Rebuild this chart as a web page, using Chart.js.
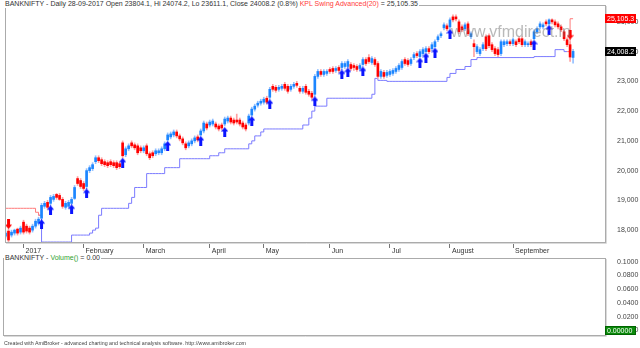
<!DOCTYPE html>
<html><head><meta charset="utf-8">
<script src="https://cdn.jsdelivr.net/npm/chart.js@4.4.0/dist/chart.umd.min.js"></script>
<style>
html,body{margin:0;padding:0;background:#fff;width:640px;height:348px;overflow:hidden;}
#wrap{position:relative;width:640px;height:348px;font-family:'Liberation Sans',Arial,sans-serif;}
canvas{position:absolute;left:0;}
.lbl{position:absolute;background:#fff;white-space:nowrap;font-size:7px;line-height:8px;color:#333;padding:0 1px;}
</style></head><body>
<div id="wrap">
<canvas id="main" width="640" height="256" style="top:0;width:640px;height:256px"></canvas>
<canvas id="vol" width="640" height="98" style="top:250px;width:640px;height:98px"></canvas>
<div class="lbl" id="title" style="left:4px;top:0px"></div>
<div class="lbl" style="left:4px;top:254px">BANKNIFTY - <span style="color:#2f9f2f">Volume()</span> = 0.00</div>
<div class="lbl" style="left:3px;top:340px;font-size:5.3px;line-height:6px;background:none;color:#444">Created with AmiBroker - advanced charting and technical analysis software. http://www.amibroker.com</div>
</div>
<script>
// ---- data ----
const opens = [
17800,17967,17833,17900,18033,17933,18267,18133,18067,18000,
18133,18233,18400,18800,18933,18900,19033,19200,19167,19033,
18767,18800,18900,19067,19733,19667,19567,19467,20000,20067,
20300,20433,20367,20300,20267,20300,20267,20267,20233,20933,
20533,20733,20933,20867,20833,20767,20667,20833,20567,20600,
20567,20600,20600,20733,21033,21133,21200,21300,21167,21067,
20900,20833,20900,21000,21133,21200,21333,21567,21533,21567,
21567,21500,21533,21567,21667,21767,21700,21700,21700,21600,
21533,21600,21867,22067,22200,22267,22300,22433,22467,22833,
22800,22733,22767,22900,22833,22733,22833,22933,22767,22667,
22833,22667,22600,22567,23167,23333,23233,23267,23400,23433,
23367,23467,23467,23500,23500,23567,23533,23500,23433,23567,
23733,23800,23633,23733,23600,23167,23300,23200,23233,23267,
23333,23400,23467,23733,23700,23600,23800,23933,23833,23933,
24000,24100,24100,24167,24400,24533,24800,24867,24833,25167,
25167,25000,24833,24767,24933,24500,24267,24000,23933,24100,
24500,24533,24233,24100,24067,23933,24233,24267,24333,24267,
24333,24433,24433,24233,24233,24333,24433,24667,24833,24833,
25000,24933,25067,25000,24933,24833,24667,24400,24233,23804.1];
const highs = [
17967,18033,18000,18033,18067,18133,18333,18200,18133,18200,
18367,18433,18900,18967,19000,19167,19200,19233,19233,19100,
18967,19000,19100,19500,19800,19733,19633,20067,20167,20267,
20500,20500,20433,20367,20333,20367,20333,20333,20300,21000,
20800,20900,21000,20933,20900,20833,20833,20900,20633,20667,
20733,20733,20800,20967,21267,21300,21367,21367,21233,21133,
20967,21000,21067,21167,21200,21400,21667,21633,21700,21733,
21633,21567,21600,21800,21833,21833,21767,21900,21767,21667,
21600,21900,22133,22233,22333,22400,22467,22500,22800,22900,
22867,22867,22900,22967,22900,22900,22967,23000,22833,22833,
22900,22733,22667,23233,23400,23400,23400,23400,23467,23500,
23500,23533,23667,23667,23733,23633,23600,23567,23600,23800,
23800,23900,23833,23800,23667,23400,23367,23367,23400,23433,
23500,23600,23733,23800,23767,23800,23967,24000,24067,24133,
24167,24167,24300,24400,24567,24667,24967,24933,25133,25233,
25233,25067,24900,24967,25000,24667,24400,24233,24133,24300,
24567,24600,24300,24167,24133,24400,24400,24400,24400,24467,
24400,24500,24500,24400,24333,24400,24733,24833,25000,24967,
25067,25105.35,25100,25067,25000,24900,24733,24467,24333,24074.2];
const lows = [
17733,17600,17767,17833,17833,17867,17867,17900,17867,17933,
18067,18167,18367,18733,18700,18833,18967,19033,19000,18733,
18700,18733,18867,19033,19500,19400,19333,19400,19933,20000,
20233,20267,20167,20133,20100,20133,20100,20033,20067,20433,
20467,20667,20767,20700,20533,20600,20600,20500,20367,20433,
20500,20533,20533,20667,21000,21067,21133,21100,21000,20867,
20700,20767,20833,20933,20967,21167,21267,21367,21467,21500,
21400,21333,21367,21500,21600,21567,21533,21567,21500,21400,
21333,21533,21833,22000,22133,22200,22233,22233,22400,22667,
22633,22667,22700,22700,22600,22667,22767,22800,22600,22600,
22567,22500,22400,22500,23100,23167,23167,23200,23267,23267,
23300,23300,23400,23433,23467,23367,23367,23333,23367,23533,
23533,23600,23567,23500,23100,23100,23100,23133,23167,23200,
23267,23333,23400,23533,23500,23533,23733,23800,23800,23867,
23967,23933,24033,24133,24333,24467,24733,24700,24767,25000,
25033,24600,24667,24700,24533,24433,23833,23933,23867,24033,
24033,24133,24000,23867,23833,23867,24167,24200,24200,24200,
24167,24267,24167,24167,24167,24167,24400,24600,24767,24767,
24867,24900,24933,24833,24767,24667,24367,24167,23667,23611.1];
const closes = [
17900,17667,17933,18000,17900,18067,17933,17967,17933,18133,
18300,18367,18833,18900,18767,19100,19133,19100,19033,18800,
18900,18933,19033,19433,19567,19467,19400,20000,20100,20200,
20433,20333,20233,20200,20167,20200,20167,20100,20133,20500,
20733,20833,20833,20767,20600,20667,20767,20567,20433,20500,
20667,20667,20733,20900,21200,21233,21300,21167,21067,20933,
20767,20933,21000,21100,21033,21333,21600,21433,21633,21667,
21467,21400,21433,21733,21767,21633,21600,21633,21567,21467,
21400,21833,22067,22167,22267,22333,22400,22300,22733,22733,
22700,22800,22833,22767,22667,22833,22900,22867,22667,22767,
22633,22567,22467,23167,23333,23233,23333,23333,23333,23333,
23433,23367,23600,23600,23667,23433,23467,23400,23533,23733,
23600,23667,23767,23567,23167,23333,23167,23300,23333,23367,
23433,23533,23667,23600,23567,23733,23900,23867,24000,24067,
24100,24000,24233,24333,24500,24600,24900,24767,25067,25067,
25100,24667,24733,24900,24600,24600,24167,24167,24067,24233,
24100,24200,24067,23933,23900,24333,24333,24333,24267,24400,
24233,24333,24233,24333,24267,24233,24667,24767,24933,24900,
24933,25067,25000,24900,24833,24733,24433,24233,23818,24008.2];
// KPL Swing trailing stop: long (blue) and short (red) parts
const longStop = [
null,null,null,null,null,null,null,null,null,null,
null,18500,17600,17600,17600,17600,17600,17600,17600,17600,
17600,17600,17833,17833,17833,17833,17833,17833,17900,18000,
18067,18500,18733,18733,18733,18733,18733,18733,18733,18733,
18733,18900,19100,19433,19433,19433,19433,19900,19900,19900,
19900,19900,19900,20100,20100,20100,20100,20100,20400,20400,
20400,20400,20400,20400,20400,20400,20400,20400,20500,20500,
20500,20600,20600,20733,20733,20733,20733,20733,20733,20733,
20733,20900,21000,21167,21167,21300,21400,21400,21400,21400,
21400,21400,21400,21400,21400,21400,21400,21400,21400,21533,
21533,21767,22000,22167,22167,22167,22167,22433,22433,22433,
22433,22433,22433,22433,22433,22433,22433,22433,22433,22433,
22433,22433,22567,23100,23033,23033,23033,23000,23000,23000,
23000,23000,23000,23000,23000,23000,23000,23000,23000,23000,
23000,23000,23000,23000,23000,23000,23000,23133,23267,23267,
23400,23400,23400,23500,23500,23733,23733,23800,23800,23800,
23800,23800,23800,23800,23800,23800,23800,23800,23800,23800,
23800,23800,23800,23800,23800,23800,23833,23833,23833,23833,
23833,23833,23833,24067,24067,24067,24000,24000,null,null];
const shortStop = [
18733,18733,18733,18733,18733,18733,18733,18733,18733,18733,
18600,18500,18500,null,null,null,null,null,null,null,
null,null,null,null,null,null,null,null,null,null,
null,null,null,null,null,null,null,null,null,null,
null,null,null,null,null,null,null,null,null,null,
null,null,null,null,null,null,null,null,null,null,
null,null,null,null,null,null,null,null,null,null,
null,null,null,null,null,null,null,null,null,null,
null,null,null,null,null,null,null,null,null,null,
null,null,null,null,null,null,null,null,null,null,
null,null,null,null,null,null,null,null,null,null,
null,null,null,null,null,null,null,null,null,null,
null,null,null,null,null,null,null,null,null,null,
null,null,null,null,null,null,null,null,null,null,
null,null,null,null,null,null,null,null,null,null,
null,null,null,null,null,null,null,null,null,null,
null,null,null,null,null,null,null,null,null,null,
null,null,null,null,null,null,null,null,null,null,
null,null,null,null,null,null,null,24000,25105.35,25105.35];
const buyBars   = [12,15,22,27,39,54,65,73,82,88,103,112,114,119,138,140,143,148,176,181];
const buyLevels = [18200,18667,18700,19233,20267,20833,21000,21300,21667,22233,22333,23233,23300,23333,23633,23800,23967,24600,24233,24733];
const sellBars   = [1,188];
const sellLevels = [18200,24567];
const monthStarts = [6,26,46,68,86,108,128,148,169];
const monthNames  = ['2017','February','March','April','May','Jun','Jul','August','September'];
const priceTicks  = [18000,19000,20000,21000,22000,23000,24000,25000];
const volumeTicks = [0,0.02,0.04,0.06,0.08,0.1];
const lastVolume = 0;

// ---- helpers ----
const FONT = "'Liberation Sans', Arial, sans-serif";
const N = closes.length;
const last = N - 1;
const fmt = (v, d) => v.toLocaleString('en-US', {minimumFractionDigits: d, maximumFractionDigits: d});
const pct = (closes[last] / closes[last - 1] - 1) * 100;
const stopVal = shortStop[last];
document.getElementById('title').innerHTML =
  'BANKNIFTY - Daily 28-09-2017 Open ' + opens[last].toFixed(1) + ', Hi ' + highs[last].toFixed(1) +
  ', Lo ' + lows[last].toFixed(1) + ', Close ' + closes[last].toFixed(1) + ' (' + pct.toFixed(1) + '%) ' +
  '<span style="color:#ff3b3b">KPL Swing Advanced(20)</span> = ' + fmt(stopVal, 2);

function makeArrow(color, up) {
  const c = document.createElement('canvas');
  c.width = 7; c.height = 10;
  const g = c.getContext('2d');
  g.fillStyle = color;
  g.beginPath();
  if (up) { g.moveTo(3.5, 0); g.lineTo(7, 4.5); g.lineTo(0, 4.5); }
  else { g.moveTo(3.5, 10); g.lineTo(7, 5.5); g.lineTo(0, 5.5); }
  g.closePath(); g.fill();
  if (up) g.fillRect(2, 4, 3, 6); else g.fillRect(2, 0, 3, 6);
  return c;
}
const upArrow = makeArrow('#0a14ff', true);
const dnArrow = makeArrow('#ff0000', false);

const idx = closes.map((_, i) => i);
const isUp = i => closes[i] >= opens[i];
const bodyData = idx.map(i => ({x: i, y: [opens[i], closes[i]]}));
const wickData = idx.map(i => ({x: i, y: [lows[i], highs[i]]}));
const longData = idx.map(i => ({x: i, y: longStop[i]}));
const shortData = idx.map(i => ({x: i, y: shortStop[i]}));
const buyData = buyBars.map((b, k) => ({x: b, y: buyLevels[k]}));
const sellData = sellBars.map((b, k) => ({x: b, y: sellLevels[k]}));

const XMIN = -0.17, XMAX = 199.96;

function valueLabel(ctx, scale, value, text, bg, fg, border) {
  const y = Math.min(scale.getPixelForValue(value), scale.bottom - 4.5);
  const x = scale.left - 1;
  ctx.save();
  ctx.fillStyle = bg;
  ctx.fillRect(x, Math.round(y - 4.5), 31, 9);
  if (border) { ctx.strokeStyle = border; ctx.lineWidth = 1; ctx.strokeRect(x + 0.5, Math.round(y - 4.5) + 0.5, 30, 8); }
  ctx.fillStyle = fg;
  ctx.font = '7px ' + FONT;
  ctx.textAlign = 'left';
  ctx.textBaseline = 'middle';
  ctx.fillText(text, x + 2, Math.round(y - 4.5) + 4.8);
  ctx.restore();
}
function drawBox(ctx, a) {
  ctx.save();
  ctx.strokeStyle = '#ababab'; ctx.lineWidth = 1;
  ctx.strokeRect(a.left + 0.5, a.top + 0.5, a.right - a.left - 1, a.bottom - a.top - 1);
  ctx.strokeStyle = '#dadada';
  ctx.beginPath();
  ctx.moveTo(a.right + 0.5, a.top + 1); ctx.lineTo(a.right + 0.5, a.bottom + 0.5); ctx.lineTo(a.left + 1, a.bottom + 0.5);
  ctx.stroke();
  ctx.restore();
}

const mainPlugin = {
  id: 'mainDeco',
  afterDatasetsDraw(chart) {
    const ctx = chart.ctx;
    ctx.save();
    ctx.font = '16px ' + FONT;
    ctx.fillStyle = 'rgba(115,115,115,0.5)';
    ctx.textAlign = 'center'; ctx.textBaseline = 'middle';
    ctx.fillText('www.vfmdirect.in', 511, 33);
    ctx.restore();
  },
  afterDraw(chart) {
    const ctx = chart.ctx, a = chart.chartArea, ys = chart.scales.y;
    drawBox(ctx, a);
    valueLabel(ctx, ys, stopVal, fmt(Math.floor(stopVal * 10) / 10, 1), '#ff0000', '#ffffff');
    valueLabel(ctx, ys, closes[last], fmt(closes[last], 1), '#000000', '#ffffff');
  }
};

Chart.defaults.font.family = FONT;
new Chart(document.getElementById('main'), {
  type: 'bar',
  data: { datasets: [
    {type: 'scatter', data: buyData, pointStyle: upArrow, pointRadius: 3, clip: false},
    {type: 'scatter', data: sellData, pointStyle: dnArrow, pointRadius: 3, clip: false},
    {type: 'bar', data: bodyData, grouped: false, barThickness: 2, minBarLength: 1, borderWidth: 0,
     backgroundColor: c => isUp(c.dataIndex) ? '#1c86ff' : '#ff0000'},
    {type: 'bar', data: wickData, grouped: false, barThickness: 1, borderWidth: 0,
     backgroundColor: c => isUp(c.dataIndex) ? '#94c0ff' : '#ffa0a0'},
    {type: 'line', data: shortData, stepped: true, borderColor: '#ff7a7a', borderWidth: 1, pointRadius: 0, spanGaps: false, fill: false},
    {type: 'line', data: longData, stepped: true, borderColor: '#7b7bff', borderWidth: 1, pointRadius: 0, spanGaps: false, fill: false}
  ]},
  options: {
    responsive: false, animation: false, devicePixelRatio: 1,
    layout: {padding: {left: 3, top: 3, right: 0, bottom: 0}},
    plugins: {legend: {display: false}, tooltip: {enabled: false}},
    scales: {
      x: {type: 'linear', min: XMIN, max: XMAX, offset: false,
        afterBuildTicks: s => { s.ticks = monthStarts.map(v => ({value: v})); },
        afterFit: s => { s.height = 13; s.paddingLeft = 0; s.paddingRight = 0; },
        grid: {drawOnChartArea: false, drawTicks: true, tickLength: 5, color: '#777', offset: false},
        border: {display: false},
        ticks: {align: 'start', labelOffset: 2, padding: -1, color: '#333', autoSkip: false, maxRotation: 0,
          font: {size: 7, family: FONT}, callback: (v, i) => monthNames[i]}
      },
      y: {type: 'linear', position: 'right', min: 17567, max: 25567,
        afterBuildTicks: s => { s.ticks = priceTicks.map(v => ({value: v})); },
        afterFit: s => { s.width = 34; s.paddingTop = 0; s.paddingBottom = 0; },
        grid: {display: false, drawTicks: false},
        border: {display: false},
        ticks: {padding: 11, color: '#444', font: {size: 7, family: FONT}, callback: v => fmt(v, 0)}
      }
    }
  },
  plugins: [mainPlugin]
});

const volPlugin = {
  id: 'volDeco',
  afterDraw(chart) {
    drawBox(chart.ctx, chart.chartArea);
    valueLabel(chart.ctx, chart.scales.y, lastVolume, lastVolume.toFixed(5), '#0b8a0b', '#ffffff', '#006400');
  }
};
new Chart(document.getElementById('vol'), {
  type: 'bar',
  data: { datasets: [] },
  options: {
    responsive: false, animation: false, devicePixelRatio: 1,
    layout: {padding: {left: 3, top: 8, right: 0, bottom: 12}},
    plugins: {legend: {display: false}, tooltip: {enabled: false}},
    scales: {
      x: {type: 'linear', min: XMIN, max: XMAX, display: false},
      y: {type: 'linear', position: 'right', min: -0.008, max: 0.1054,
        afterBuildTicks: s => { s.ticks = volumeTicks.map(v => ({value: v})); },
        afterFit: s => { s.width = 34; s.paddingTop = 0; s.paddingBottom = 0; },
        grid: {display: false, drawTicks: false},
        border: {display: false},
        ticks: {padding: 11, color: '#444', font: {size: 7, family: FONT}, callback: v => v.toFixed(4)}
      }
    }
  },
  plugins: [volPlugin]
});
</script>
</body></html>
